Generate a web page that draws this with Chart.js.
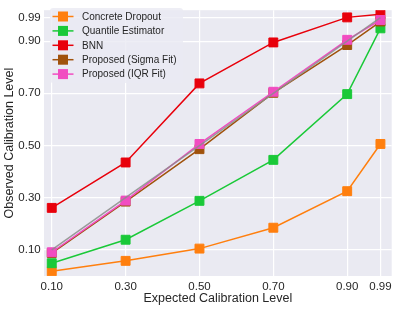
<!DOCTYPE html>
<html>
<head>
<meta charset="utf-8">
<script src="https://cdn.jsdelivr.net/npm/chart.js@4"></script>
<style>
    html, body { margin: 0; padding: 0; background: #fff; }
    #wrap { width: 399px; height: 310px; }
</style>
</head>
<body>
<div id="wrap"><canvas id="calib"></canvas></div>
<script>
// expected calibration levels (x) and axis ticks
const levels = [0.10, 0.30, 0.50, 0.70, 0.90, 0.99];
const tickValues = [0.10, 0.30, 0.50, 0.70, 0.90, 0.99];

// observed calibration per method
const concreteDropout = [0.018, 0.058, 0.105, 0.185, 0.325, 0.506];
const quantileEstimator = [0.049, 0.139, 0.288, 0.445, 0.697, 0.949];
const bnn = [0.261, 0.435, 0.738, 0.895, 0.991, 1.003];
const sigmaFit = [0.088, 0.285, 0.486, 0.702, 0.885, 0.975];
const iqrFit = [0.091, 0.289, 0.506, 0.706, 0.905, 0.981];
const ideal = [0.10, 0.30, 0.50, 0.70, 0.90, 0.99];

const seriesNames = ['Concrete Dropout', 'Quantile Estimator', 'BNN', 'Proposed (Sigma Fit)', 'Proposed (IQR Fit)'];
const seriesColors = ['#ff7f0e', '#1ac938', '#e8000b', '#a0520c', '#f14cc1'];
const seriesValues = [concreteDropout, quantileEstimator, bnn, sigmaFit, iqrFit];

const textColor = '#262626';
const plotBg = '#eaeaf2';

Chart.defaults.font.family = "'Liberation Sans', Arial, sans-serif";
Chart.defaults.color = textColor;

function toPoints(ys) {
    return levels.map((x, i) => ({ x: x, y: ys[i] }));
}

const datasets = seriesValues.map((vals, i) => ({
    label: seriesNames[i],
    data: toPoints(vals),
    borderColor: seriesColors[i],
    backgroundColor: seriesColors[i],
    borderWidth: 1.5,
    pointStyle: 'rect',
    pointRadius: 6.3,
    pointBorderWidth: 1,
    pointBorderColor: seriesColors[i],
    pointBackgroundColor: seriesColors[i],
    order: 10 - i
}));

// thin grey y = x reference, drawn under the IQR series
datasets.push({
    label: 'ideal',
    data: toPoints(ideal),
    borderColor: 'rgba(140,140,140,0.85)',
    borderWidth: 1.5,
    pointRadius: 0,
    order: 5.5
});

const plotBackground = {
    id: 'plotBackground',
    beforeDraw(chart) {
        const { ctx, chartArea: a } = chart;
        ctx.save();
        ctx.fillStyle = plotBg;
        ctx.fillRect(a.left, a.top, a.right - a.left, a.bottom - a.top);
        ctx.restore();
    }
};

// legend inside the plot, upper left, line + square marker like the original
const innerLegend = {
    id: 'innerLegend',
    afterDatasetsDraw(chart) {
        const ctx = chart.ctx;
        const boxX = 50, boxY = 8, boxW = 133, boxH = 75;
        ctx.save();
        ctx.fillStyle = 'rgba(234,234,242,0.8)';
        ctx.beginPath();
        ctx.roundRect(boxX, boxY, boxW, boxH, 3);
        ctx.fill();

        ctx.font = "10px 'Liberation Sans', Arial, sans-serif";
        ctx.textBaseline = 'middle';
        seriesNames.forEach((name, i) => {
            const y = 16.5 + i * 14.4;
            ctx.strokeStyle = seriesColors[i];
            ctx.lineWidth = 1.5;
            ctx.beginPath();
            ctx.moveTo(52.5, y);
            ctx.lineTo(73.5, y);
            ctx.stroke();
            ctx.fillStyle = seriesColors[i];
            ctx.fillRect(63 - 5, y - 5, 10, 10);
            ctx.fillStyle = textColor;
            ctx.fillText(name, 82, y + 0.5);
        });
        ctx.restore();
    }
};

new Chart(document.getElementById('calib'), {
    type: 'line',
    data: { datasets: datasets },
    options: {
        responsive: true,
        maintainAspectRatio: false,
        animation: false,
        layout: { padding: { top: 4.7, right: 4.7, left: 0, bottom: 0 } },
        plugins: {
            legend: { display: false },
            tooltip: { enabled: false }
        },
        scales: {
            x: {
                type: 'linear',
                min: 0.079,
                max: 1.0205,
                afterBuildTicks: s => { s.ticks = tickValues.map(v => ({ value: v })); },
                afterFit: s => { s.height = 34; },
                grid: { color: '#ffffff', lineWidth: 1.2, drawTicks: false },
                border: { display: false },
                ticks: {
                    padding: 4,
                    font: { size: 11.5 },
                    maxRotation: 0,
                    callback: v => v.toFixed(2)
                },
                title: {
                    display: true,
                    text: 'Expected Calibration Level',
                    font: { size: 12.5 },
                    padding: { top: 0, bottom: 3.5 }
                }
            },
            y: {
                min: 0.0,
                max: 1.0185,
                afterBuildTicks: s => { s.ticks = tickValues.map(v => ({ value: v })); },
                afterFit: s => { s.width = 44; },
                grid: { color: '#ffffff', lineWidth: 1.2, drawTicks: false },
                border: { display: false },
                ticks: {
                    padding: 3.3,
                    font: { size: 11.5 },
                    callback: v => v.toFixed(2)
                },
                title: {
                    display: true,
                    text: 'Observed Calibration Level',
                    font: { size: 12.5 },
                    padding: { top: 2.2, bottom: 0 }
                }
            }
        }
    },
    plugins: [plotBackground, innerLegend]
});
</script>
</body>
</html>
